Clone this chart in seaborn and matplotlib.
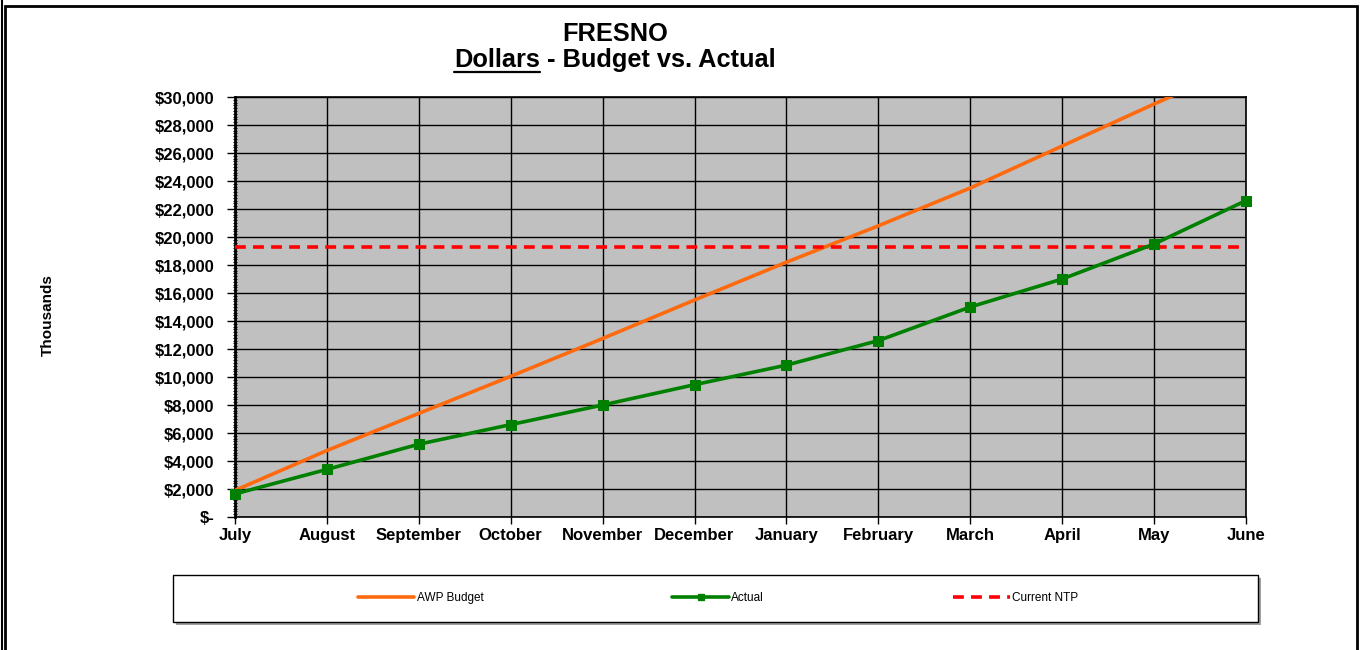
import numpy as np
import pandas as pd
import matplotlib.pyplot as plt
import matplotlib.ticker as mticker
from matplotlib.lines import Line2D
from matplotlib.patches import Rectangle
import seaborn as sns

# Chart data (thousands of dollars)
months = ['July', 'August', 'September', 'October', 'November', 'December',
          'January', 'February', 'March', 'April', 'May', 'June']
awp_budget = [1900, 4750, 7400, 10050, 12750, 15500, 18200, 20800, 23500, 26500, 29500, 32400]
actual = [1650, 3400, 5200, 6600, 8000, 9450, 10850, 12600, 15000, 17000, 19500, 22600]
current_ntp = 19300

sns.set_style('white')
plt.rcParams['font.family'] = ['Liberation Sans', 'DejaVu Sans']
plt.rcParams.update({'text.color': 'black', 'axes.labelcolor': 'black',
                     'xtick.color': 'black', 'ytick.color': 'black'})

df = pd.DataFrame({'idx': range(len(months)), 'budget': awp_budget, 'actual': actual})

fig = plt.figure(figsize=(13.61, 6.5), dpi=100)
ax = fig.add_axes([235 / 1361, 1 - 517 / 650, 1011 / 1361, 420 / 650])
ax.set_facecolor('#C0C0C0')

sns.lineplot(data=df, x='idx', y='budget', ax=ax, color='#FF6A0E', linewidth=2.6,
             label='AWP Budget', zorder=3)
sns.lineplot(data=df, x='idx', y='actual', ax=ax, color='#008000', linewidth=2.6,
             marker='s', markersize=7, markeredgecolor='#008000', label='Actual',
             zorder=4, clip_on=False)
ax.axhline(current_ntp, color='#FF0000', linewidth=2.6, linestyle=(0, (3, 2)),
           label='Current NTP', zorder=3)

ax.set_xlim(0, len(months) - 1)
ax.set_ylim(0, 30000)
ax.set_xticks(range(len(months)))
ax.set_xticklabels(months, fontsize=12, fontweight='bold')
ax.yaxis.set_major_locator(mticker.MultipleLocator(2000))
ax.yaxis.set_minor_locator(mticker.MultipleLocator(200))
ax.yaxis.set_major_formatter(mticker.FuncFormatter(
    lambda v, p: '$-' if v == 0 else '${:,.0f}'.format(v)))
for lab in ax.get_yticklabels():
    lab.set_fontweight('bold')
ax.tick_params(axis='y', which='major', labelsize=12, length=6, width=1, direction='out',
               left=True, pad=9)
ax.tick_params(axis='y', which='minor', length=3, width=0.8, direction='inout', left=True)
ax.tick_params(axis='x', which='major', length=5, width=1, direction='out', bottom=True, pad=3)

ax.grid(True, which='major', axis='both', color='black', linewidth=1)
ax.set_axisbelow(True)
for s in ax.spines.values():
    s.set_color('black')
    s.set_linewidth(1.2)
ax.spines['left'].set_linewidth(2)

ax.set_xlabel('')
ax.set_ylabel('')
fig.text(48 / 1361, 1 - 315 / 650, 'Thousands', rotation=90, ha='center', va='center',
         fontsize=11, fontweight='bold')

# Title
fig.text(615 / 1361, 1 - 34 / 650, 'FRESNO', ha='center', va='center',
         fontsize=18.3, fontweight='bold')
renderer = fig.canvas.get_renderer()
t1 = fig.text(0, 1 - 60 / 650, 'Dollars', ha='left', va='center', fontsize=18.3, fontweight='bold')
t2 = fig.text(0, 1 - 60 / 650, ' - Budget vs. Actual', ha='left', va='center',
              fontsize=18.3, fontweight='bold')
w1 = t1.get_window_extent(renderer).width
w2 = t2.get_window_extent(renderer).width
x0 = 615 - (w1 + w2) / 2
t1.set_x(x0 / 1361)
t2.set_x((x0 + w1) / 1361)
fig.add_artist(Line2D([x0 / 1361, (x0 + w1) / 1361], [1 - 72 / 650, 1 - 72 / 650],
                      color='black', linewidth=1.6, transform=fig.transFigure))

# Legend in a framed box
ax.get_legend().remove()
handles = [Line2D([], [], color='#FF6A0E', linewidth=2.6),
           Line2D([], [], color='#008000', linewidth=2.6, marker='s', markersize=5),
           Line2D([], [], color='#FF0000', linewidth=2.6, linestyle=(0, (3, 2)))]
fig.legend(handles, ['AWP Budget', 'Actual', 'Current NTP'], ncol=3,
           loc='center', bbox_to_anchor=(718 / 1361, 1 - 598 / 650), frameon=False,
           fontsize=8.5, handlelength=4.8, handletextpad=0.2, columnspacing=16)
fig.add_artist(Rectangle((176 / 1361, 1 - 625 / 650), 1085 / 1361, 47 / 650,
                         transform=fig.transFigure, facecolor='#A0A0A0', edgecolor='none',
                         zorder=0))
fig.add_artist(Rectangle((173 / 1361, 1 - 622 / 650), 1085 / 1361, 47 / 650,
                         transform=fig.transFigure, facecolor='white', edgecolor='black',
                         linewidth=1, zorder=1))

# Outer frame
fig.add_artist(Rectangle((5 / 1361, -0.01), 1352 / 1361, 1 - 6 / 650 + 0.01,
                         transform=fig.transFigure, facecolor='none', edgecolor='black',
                         linewidth=2))
fig.add_artist(Line2D([2 / 1361, 2 / 1361], [0, 1], color='black', linewidth=1.5,
                      transform=fig.transFigure))

fig.savefig('out.png', dpi=100)
